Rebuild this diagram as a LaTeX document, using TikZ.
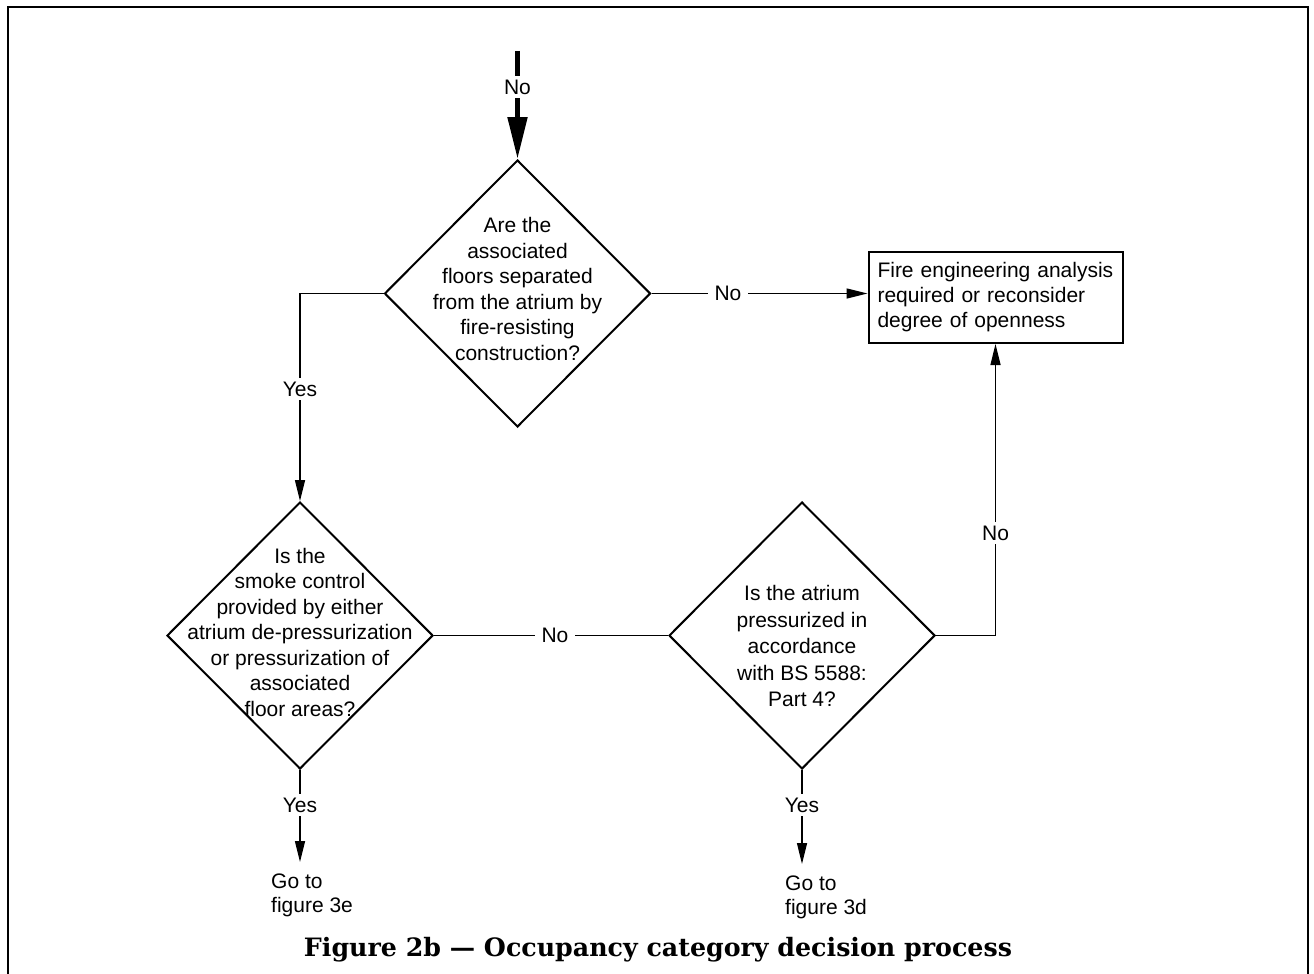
\documentclass[tikz,border=0pt]{standalone}
\usepackage{fontspec}
\usepackage{graphicx}
\setmainfont{Liberation Sans}
\newfontfamily\captionserif{DejaVu Serif}
\usetikzlibrary{shapes.geometric,arrows.meta}
\begin{document}
\begin{tikzpicture}[x=1pt,y=-1pt,
  txt/.style={font=\fontsize{21}{25.5}\selectfont, align=center, inner sep=0pt},
  decision/.style={draw, shape=diamond, line width=2pt, minimum width=266pt, minimum height=267pt, inner sep=0pt},
  procbox/.style={draw, line width=2pt, minimum width=254pt, minimum height=91pt, inner xsep=9pt, text width=236pt, align=left, font=\fontsize{21}{25}\selectfont},
  conn/.style={line width=1.3pt},
  arr/.style={conn, -{Triangle[length=21pt,width=10pt]}},
  bigarr/.style={line width=5pt, -{Triangle[length=42pt,width=19pt]}},
  lbl/.style={fill=white, font=\fontsize{21}{25}\selectfont, inner xsep=7pt, inner ysep=4pt},
]
\useasboundingbox (0,0) rectangle (1314,974);

% frame, open at the bottom
\draw[line width=2.5pt] (8,974) -- (8,7) -- (1308,7) -- (1308,974);

% decisions
\node[decision] (d1) at (517.5,293.5) {};
\node[txt] (d1t) at (517.5,289) {Are the\\associated\\floors separated\\from the atrium by\\fire-resisting\\construction?};

\node[decision] (d2) at (300,635.5) {};
\node[txt] (d2t) at (300,632) {Is the\\smoke control\\provided by either\\atrium de-pressurization\\or pressurization of\\associated\\floor areas?};

\node[decision] (d3) at (802,635.5) {};
\node[txt, font=\fontsize{21}{26.5}\selectfont] (d3t) at (802,646) {Is the atrium\\pressurized in\\accordance\\with BS 5588:\\Part 4?};

% outcome box
\node[procbox] (box) at (995.5,297.5) {Fire engineering analysis\\required or reconsider\\degree of openness};

% entry arrow
\coordinate (start) at (517.5,51);
\draw[bigarr] (start) -- (d1.north);
\node[lbl, inner xsep=4pt] (noin) at (517.5,87) {No};

% connectors
\draw[arr] (d1.east) -- (d1.east -| box.west);
\node[lbl] (no1) at (728,293.5) {No};

\draw[arr] (d1.west) -| (d2.north);
\node[lbl, inner xsep=3pt] (yes1) at (300,389) {Yes};

\draw[conn] (d2.east) -- (d3.west);
\node[lbl] (no2) at (555,635.5) {No};

\draw[arr] (d3.east) -| (box.south);
\node[lbl, inner xsep=3pt] (no3) at (995.5,533) {No};

\coordinate (e1) at (300,862);
\draw[arr] (d2.south) -- (e1);
\node[lbl, inner xsep=3pt] (yes2) at (300,805) {Yes};

\coordinate (e2) at (802,864);
\draw[arr] (d3.south) -- (e2);
\node[lbl, inner xsep=3pt] (yes3) at (802,805) {Yes};

% destinations
\node[txt, align=left, anchor=north west, font=\fontsize{21}{24}\selectfont] (go3e) at (271,874) {Go to\\figure 3e};
\node[txt, align=left, anchor=north west, font=\fontsize{21}{24}\selectfont] (go3d) at (785,876) {Go to\\figure 3d};

% caption
\node[inner sep=0pt] (caption) at (658,950) {\resizebox{708pt}{!}{\captionserif\bfseries Figure 2b — Occupancy category decision process}};
\end{tikzpicture}
\end{document}
